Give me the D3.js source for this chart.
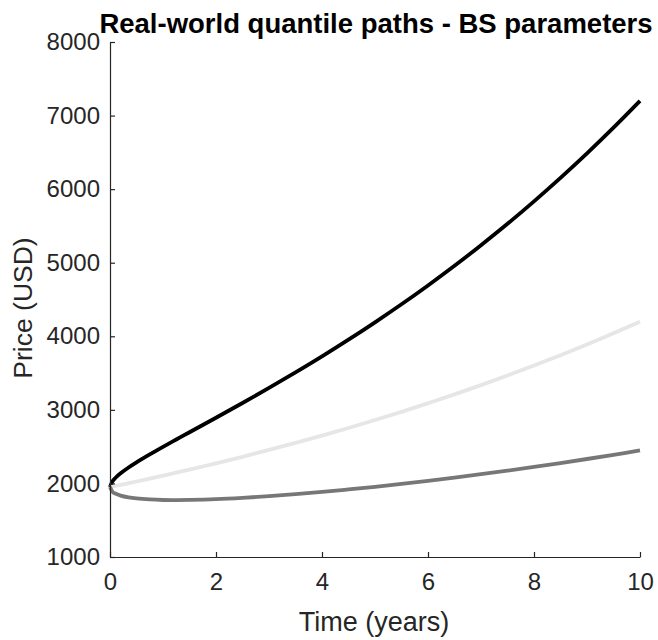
<!DOCTYPE html>
<html>
<head>
<meta charset="utf-8">
<script src="https://cdn.jsdelivr.net/npm/d3@7"></script>
<style>
  html, body { margin: 0; padding: 0; background: #fff; }
  svg { display: block; }
  text { font-family: "Liberation Sans", Arial, sans-serif; fill: #262626; }
</style>
</head>
<body>
<svg id="chart" width="658" height="640"></svg>
<script>
// Time grid (years)
const times = [0, 0.05, 0.1, 0.2, 0.35, 0.5, 0.75, 1, 1.25, 1.5, 2, 2.5, 3, 3.5, 4, 4.5,
               5, 5.5, 6, 6.5, 7, 7.5, 8, 8.5, 9, 9.5, 10];

// Quantile paths of the price (USD)
const upperPath = [1950, 2034, 2074, 2137, 2216, 2286, 2394, 2497, 2597, 2696, 2893, 3093, 3298, 3509,
                   3727, 3954, 4190, 4435, 4691, 4958, 5238, 5529, 5834, 6153, 6486, 6835, 7199];
const medianPath = [1950, 1958, 1965, 1980, 2003, 2026, 2066, 2106, 2146, 2188, 2273, 2362, 2455, 2551,
                    2650, 2754, 2862, 2973, 3090, 3210, 3336, 3466, 3602, 3743, 3889, 4041, 4199];
const lowerPath = [1950, 1884, 1862, 1835, 1811, 1796, 1782, 1775, 1774, 1776, 1786, 1804, 1827, 1854,
                   1884, 1918, 1954, 1993, 2035, 2079, 2125, 2173, 2224, 2277, 2332, 2389, 2449];

const xTicks = [0, 2, 4, 6, 8, 10];
const yTicks = [1000, 2000, 3000, 4000, 5000, 6000, 7000, 8000];

const seriesList = [
  { values: upperPath,  color: "#000000" },
  { values: medianPath, color: "#e6e6e6" },
  { values: lowerPath,  color: "#777777" }
];

const svg = d3.select("#chart");
const margin = { left: 110, right: 18, top: 42, bottom: 83 };
const W = 658, H = 640;

const x = d3.scaleLinear().domain([0, 10]).range([margin.left, W - margin.right]);
const y = d3.scaleLinear().domain([1000, 8000]).range([H - margin.bottom, margin.top]);

// Lines
const line = d3.line()
  .x((d, i) => x(times[i]))
  .y(d => y(d))
  .curve(d3.curveCatmullRom.alpha(0.5));

svg.append("g")
  .selectAll("path")
  .data(seriesList)
  .join("path")
  .attr("d", d => line(d.values))
  .attr("fill", "none")
  .attr("stroke", d => d.color)
  .attr("stroke-width", 3.8)
  .attr("stroke-linejoin", "round");

// Axes (ticks pointing inward)
const xAxis = d3.axisBottom(x).tickValues(xTicks).tickFormat(d3.format("d"))
  .tickSizeInner(-5).tickSizeOuter(0).tickPadding(16);
const yAxis = d3.axisLeft(y).tickValues(yTicks).tickFormat(d3.format("d"))
  .tickSizeInner(-5).tickSizeOuter(0).tickPadding(10);

const gx = svg.append("g")
  .attr("transform", `translate(0,${H - margin.bottom})`)
  .call(xAxis);
const gy = svg.append("g")
  .attr("transform", `translate(${margin.left},0)`)
  .call(yAxis);

[gx, gy].forEach(g => {
  g.select(".domain").attr("stroke", "#262626").attr("stroke-width", 1.2);
  g.selectAll(".tick line").attr("stroke", "#262626").attr("stroke-width", 1.2);
  g.selectAll(".tick text")
    .attr("font-size", 24)
    .attr("font-family", "Liberation Sans, Arial, sans-serif")
    .attr("fill", "#262626");
});

// Titles
svg.append("text")
  .attr("x", 376)
  .attr("y", 33)
  .attr("text-anchor", "middle")
  .attr("font-size", 27.5)
  .attr("font-weight", "bold")
  .style("fill", "#000")
  .text("Real-world quantile paths - BS parameters");

svg.append("text")
  .attr("x", 374)
  .attr("y", 631)
  .attr("text-anchor", "middle")
  .attr("font-size", 27)
  .text("Time (years)");

svg.append("text")
  .attr("transform", `translate(32,308) rotate(-90)`)
  .attr("text-anchor", "middle")
  .attr("font-size", 26.5)
  .text("Price (USD)");
</script>
</body>
</html>
